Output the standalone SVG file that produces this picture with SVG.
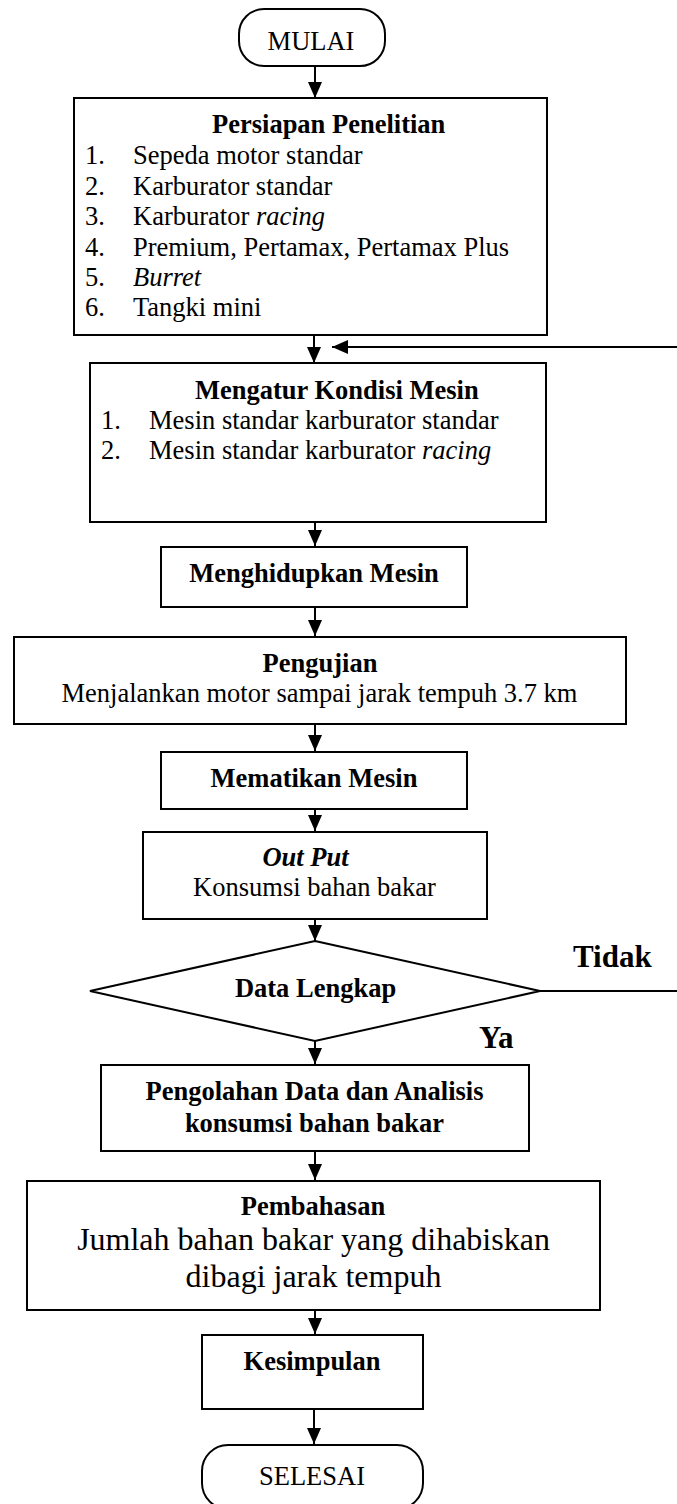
<svg xmlns="http://www.w3.org/2000/svg" width="677" height="1504" viewBox="0 0 677 1504">
<style>
.box{fill:#fff;stroke:#000;stroke-width:2}
.con{fill:none;stroke:#000;stroke-width:2}
text{font-family:"Liberation Serif","Times New Roman",serif;font-size:26.5px;fill:#000}
.b{font-weight:bold}
.i{font-style:italic}
.c{text-anchor:middle}
.lbl{font-weight:bold;font-size:31px}
.big{font-size:32px}
</style>
<defs>
<marker id="ah" markerUnits="userSpaceOnUse" markerWidth="16" markerHeight="14" refX="16" refY="7" orient="auto">
<path d="M0,0 L16,7 L0,14 Z" fill="#000"/>
</marker>
</defs>
<rect width="677" height="1504" fill="#fff"/>
<g id="connectors">
<line class="con" x1="315" y1="66" x2="315" y2="98" marker-end="url(#ah)"/>
<line class="con" x1="314" y1="335" x2="314" y2="363" marker-end="url(#ah)"/>
<line class="con" x1="315" y1="522" x2="315" y2="546" marker-end="url(#ah)"/>
<line class="con" x1="315" y1="607" x2="315" y2="636" marker-end="url(#ah)"/>
<line class="con" x1="315" y1="724" x2="315" y2="751" marker-end="url(#ah)"/>
<line class="con" x1="315" y1="809" x2="315" y2="831" marker-end="url(#ah)"/>
<line class="con" x1="315" y1="919" x2="315" y2="941" marker-end="url(#ah)"/>
<line class="con" x1="315" y1="1041" x2="315" y2="1064" marker-end="url(#ah)"/>
<line class="con" x1="315" y1="1151" x2="315" y2="1180" marker-end="url(#ah)"/>
<line class="con" x1="315" y1="1310" x2="315" y2="1334" marker-end="url(#ah)"/>
<line class="con" x1="314" y1="1409" x2="314" y2="1444" marker-end="url(#ah)"/>
<path class="con" d="M540,991 H690 V347 H332" marker-end="url(#ah)"/>
<text class="lbl" x="573" y="967">Tidak</text>
<text class="lbl" x="479" y="1048">Ya</text>
</g>
<g id="mulai">
<rect class="box" x="239" y="9" width="146" height="57" rx="25" ry="25"/>
<text class="c" x="311" y="50">MULAI</text>
</g>
<g id="persiapan">
<rect class="box" x="74" y="98" width="473" height="237"/>
<text class="b" x="212" y="133">Persiapan Penelitian</text>
<text x="85" y="164">1.</text><text x="133" y="164">Sepeda motor standar</text>
<text x="85" y="194.5">2.</text><text x="133" y="194.5">Karburator standar</text>
<text x="85" y="225">3.</text><text x="133" y="225">Karburator <tspan class="i">racing</tspan></text>
<text x="85" y="255.5">4.</text><text x="133" y="255.5">Premium, Pertamax, Pertamax Plus</text>
<text x="85" y="286">5.</text><text x="133" y="286" class="i">Burret</text>
<text x="85" y="316">6.</text><text x="133" y="316">Tangki mini</text>
</g>
<g id="mengatur">
<rect class="box" x="90" y="363" width="456" height="159"/>
<text class="b" x="195" y="399">Mengatur Kondisi Mesin</text>
<text x="101" y="429">1.</text><text x="149" y="429">Mesin standar karburator standar</text>
<text x="101" y="459">2.</text><text x="149" y="459">Mesin standar karburator <tspan class="i">racing</tspan></text>
</g>
<g id="menghidupkan">
<rect class="box" x="161" y="547" width="306" height="60"/>
<text class="b c" x="314" y="582">Menghidupkan Mesin</text>
</g>
<g id="pengujian">
<rect class="box" x="14" y="637" width="612" height="87"/>
<text class="b c" x="320" y="672">Pengujian</text>
<text class="c" x="319.5" y="702">Menjalankan motor sampai jarak tempuh 3.7 km</text>
</g>
<g id="mematikan">
<rect class="box" x="161" y="752" width="306" height="57"/>
<text class="b c" x="314" y="787">Mematikan Mesin</text>
</g>
<g id="output">
<rect class="box" x="143" y="832" width="344" height="87"/>
<text class="b i c" x="305.5" y="866">Out Put</text>
<text class="c" x="314.5" y="896">Konsumsi bahan bakar</text>
</g>
<g id="data-lengkap">
<polygon class="box" points="315,941 540,991 315,1041 90,991"/>
<text class="b c" x="315.5" y="997">Data Lengkap</text>
</g>
<g id="pengolahan">
<rect class="box" x="101" y="1065" width="428" height="86"/>
<text class="b c" x="314.5" y="1100">Pengolahan Data dan Analisis</text>
<text class="b c" x="314.5" y="1132">konsumsi bahan bakar</text>
</g>
<g id="pembahasan">
<rect class="box" x="27" y="1181" width="573" height="129"/>
<text class="b c" x="313" y="1215">Pembahasan</text>
<text class="big c" x="313.5" y="1250">Jumlah bahan bakar yang dihabiskan</text>
<text class="big c" x="313.5" y="1287">dibagi jarak tempuh</text>
</g>
<g id="kesimpulan">
<rect class="box" x="202" y="1335" width="221" height="74"/>
<text class="b c" x="312" y="1370">Kesimpulan</text>
</g>
<g id="selesai">
<rect class="box" x="202" y="1445" width="221" height="64" rx="26" ry="26"/>
<text class="c" x="312" y="1485">SELESAI</text>
</g>
</svg>
